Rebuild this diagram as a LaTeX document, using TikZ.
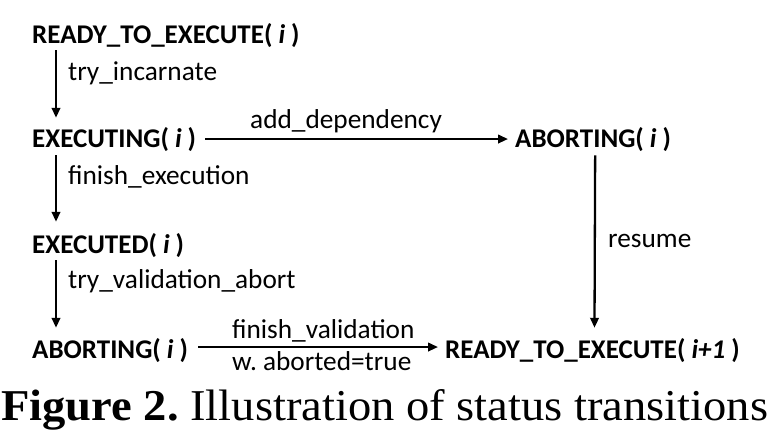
\documentclass[tikz,border=0pt]{standalone}
\usepackage{fontspec}
\setmainfont{Carlito}
\newfontfamily\capfont{Liberation Serif}
\usetikzlibrary{arrows.meta,calc}
\begin{document}
\begin{tikzpicture}[x=1pt,y=-1pt,
  state/.style={font=\fontsize{27}{32}\selectfont\bfseries, inner sep=0pt, anchor=base west},
  lbl/.style={font=\fontsize{27.3}{32}\selectfont, inner sep=0pt, anchor=base west},
  arr/.style={line width=2.3pt, -{Triangle[length=10pt,width=8.5pt]}}]
\useasboundingbox (0,0) rectangle (775,439);
% states
\node[state] (r0)  at (32,43)  {READY\_TO\_EXECUTE( \textit{i} )};
\node[state] (ex)  at (32,147) {EXECUTING( \textit{i} )};
\node[state] (ab1) at (515,147) {ABORTING( \textit{i} )};
\node[state] (ed)  at (32,253) {EXECUTED( \textit{i} )};
\node[state] (ab2) at (32,358) {ABORTING( \textit{i} )};
\node[state] (r1)  at (445,358) {READY\_TO\_EXECUTE( \textit{i+1} )};
% transitions
\draw[arr] ($(r0.south west)+(24,3)$) -- ($(ex.north west)+(24,-9)$);
\draw[arr] ($(ex.south west)+(24,4)$) -- ($(ed.north west)+(24,-11)$);
\draw[arr] ($(ed.south west)+(24,3)$) -- ($(ab2.north west)+(24,-10)$);
\draw[arr] ($(ex.east)+(9,0)$) -- ($(ab1.west)+(-7,0)$);
\draw[arr] ($(ab1.south)+(2,4)$) -- ($(r1.north)+(2,-10)$);
\draw[arr] ($(ab2.east)+(10,-3)$) -- ($(r1.west)+(-7,-3)$);
% labels
\node[lbl] (l1) at (68,80)   {try\_incarnate};
\node[lbl] (l2) at (68,184)  {finish\_execution};
\node[lbl] (l3) at (68,288)  {try\_validation\_abort};
\node[lbl] (l4) at (250,128) {add\_dependency};
\node[lbl] (l5) at (608,247) {resume};
\node[lbl] (l6) at (232,338) {finish\_validation};
\node[lbl] (l7) at (232,370) {w.\ aborted=true};
% caption
\node[inner sep=0pt, anchor=base west] (cap) at (1,420)
  {\resizebox{767pt}{31pt}{\capfont\fontsize{40}{48}\selectfont\textbf{Figure 2.}\ Illustration of status transitions}};
\end{tikzpicture}
\end{document}
